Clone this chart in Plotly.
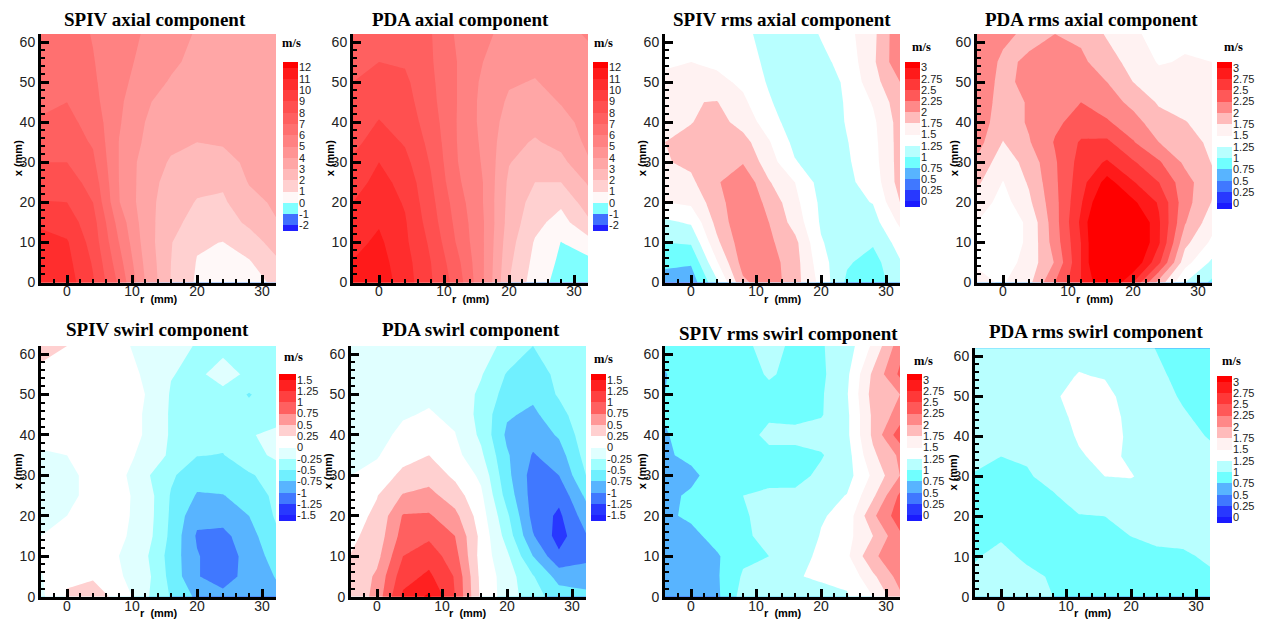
import numpy as np
import plotly.graph_objects as go

# grid of the measured fields (each inner list is one r column, values along x_mm)
r_mm = [-4, 0, 4, 8, 12, 16, 20, 24, 28, 32.15]
x_mm = [0, 5, 10, 15, 20, 25, 30, 35, 40, 45, 50, 55, 62]

spiv_axial = [
    [10.6,10.4,10.2,9.9,9.05,8.5,8.0,7.5,7.1,6.8,6.6,6.5,6.4],
    [10.5,10.3,10.1,9.5,9.0,8.5,8.0,7.5,7.3,7.0,6.7,6.5,6.4],
    [9.1,8.9,8.6,8.4,8.0,7.6,7.2,6.9,6.6,6.3,6.15,6.05,5.95],
    [6.8,6.4,6.0,5.6,5.05,5.0,4.98,4.98,5.1,5.2,5.3,5.4,5.5],
    [4.0,3.8,3.6,3.5,3.45,3.5,3.55,3.85,4.0,4.1,4.5,4.7,4.9],
    [1.95,2.0,2.05,2.25,2.4,2.6,2.9,3.2,3.4,3.7,3.9,4.2,4.45],
    [0.85,0.95,1.1,1.7,1.95,2.2,2.7,3.0,3.3,3.45,3.55,3.7,3.9],
    [0.5,0.7,0.98,1.5,1.85,2.15,2.65,3.1,3.35,3.5,3.55,3.55,3.6],
    [0.6,0.9,1.5,2.2,2.7,3.05,3.2,3.3,3.4,3.5,3.55,3.55,3.55],
    [1.2,1.8,2.4,2.95,3.15,3.25,3.35,3.4,3.45,3.5,3.5,3.5,3.5],
]
pda_axial = [
    [11.2,11.05,10.7,10.4,10.0,9.6,9.2,8.7,8.5,8.3,8.0,7.8,7.6],
    [11.6,11.4,11.2,10.9,10.6,10.3,10.0,9.5,9.05,8.7,8.4,8.0,7.6],
    [10.5,10.4,10.2,10.1,9.9,9.7,9.3,8.9,8.6,8.4,8.2,7.9,7.6],
    [9.1,9.0,8.8,8.5,8.3,8.1,7.9,7.7,7.5,7.3,7.2,7.1,7.05],
    [7.6,7.3,6.9,6.7,6.5,6.2,6.05,6.0,5.98,6.0,6.0,6.0,5.85],
    [5.1,5.1,5.1,5.1,5.0,5.0,4.9,4.8,4.7,4.7,4.8,5.0,5.2],
    [2.0,2.2,2.4,2.6,2.7,2.8,3.05,3.3,3.6,3.85,4.1,4.4,4.7],
    [0.5,0.7,0.9,1.3,1.6,2.0,2.5,2.9,3.3,3.6,3.95,4.2,4.5],
    [-0.4,-0.2,-0.02,0.6,1.2,2.0,2.7,3.3,3.7,4.05,4.3,4.5,4.7],
    [-0.5,-0.3,0.6,1.8,2.5,3.1,3.9,4.2,4.3,4.4,4.5,4.7,5.1],
]
spiv_rms_axial = [
    [0.65,0.8,1.0,1.2,1.5,1.62,1.73,1.75,1.65,1.6,1.55,1.47,1.4],
    [0.6,0.78,1.03,1.28,1.55,1.7,1.8,1.83,1.74,1.74,1.6,1.5,1.4],
    [1.2,1.48,1.7,1.83,1.9,1.97,1.96,1.9,1.85,1.76,1.57,1.45,1.4],
    [1.95,2.1,2.15,2.2,2.2,2.2,1.98,1.85,1.65,1.55,1.45,1.35,1.3],
    [2.15,2.12,2.05,2.0,1.93,1.77,1.62,1.52,1.38,1.28,1.22,1.2,1.17],
    [1.85,1.85,1.82,1.65,1.57,1.5,1.27,1.18,1.1,1.07,1.05,1.05,1.08],
    [1.42,1.35,1.27,1.22,1.2,1.15,1.1,1.08,1.07,1.08,1.1,1.18,1.27],
    [0.95,1.03,1.1,1.17,1.18,1.2,1.22,1.24,1.27,1.28,1.3,1.35,1.42],
    [0.9,0.9,1.03,1.15,1.26,1.35,1.4,1.42,1.45,1.52,1.65,1.7,1.68],
    [1.1,1.23,1.35,1.55,1.75,1.85,1.85,1.85,1.85,1.9,2.0,2.2,2.2],
]
pda_rms_axial = [
    [1.55,1.48,1.47,1.5,1.65,1.8,1.95,2.1,2.15,2.15,2.15,2.15,2.2],
    [1.48,1.38,1.33,1.33,1.4,1.49,1.6,1.74,1.85,1.9,1.93,1.96,2.05],
    [1.68,1.6,1.55,1.55,1.7,1.78,1.85,1.98,2.03,2.02,2.08,2.03,1.95],
    [2.25,2.02,2.12,2.15,2.17,2.2,2.22,2.27,2.2,2.18,2.15,2.1,2.0],
    [2.75,2.75,2.75,2.8,2.72,2.65,2.6,2.53,2.35,2.25,2.15,2.05,1.95],
    [3.3,3.6,3.6,3.6,3.35,3.1,2.78,2.55,2.28,2.12,2.0,1.87,1.72],
    [2.75,3.25,3.4,3.4,3.05,2.77,2.53,2.27,2.1,1.93,1.75,1.65,1.55],
    [1.9,2.55,2.78,2.78,2.72,2.5,2.28,2.0,1.85,1.72,1.6,1.48,1.4],
    [1.25,1.6,1.82,2.02,2.1,2.1,1.95,1.85,1.76,1.65,1.57,1.52,1.45],
    [0.95,1.2,1.45,1.6,1.74,1.8,1.74,1.7,1.65,1.6,1.55,1.5,1.42],
]
spiv_swirl = [
    [-0.05,-0.02,0.05,0.0,-0.1,-0.15,-0.15,-0.02,0.05,0.1,0.15,0.2,0.32],
    [0.27,0.22,0.1,0.05,0.0,-0.1,-0.1,0.0,0.05,0.07,0.1,0.15,0.25],
    [0.33,0.23,0.15,0.15,0.15,0.12,0.12,0.12,0.12,0.12,0.12,0.12,0.1],
    [0.2,0.03,0.0,0.05,0.07,0.08,0.08,0.08,0.08,0.08,0.08,0.08,0.06],
    [-0.2,-0.15,-0.2,-0.12,-0.1,-0.1,-0.2,-0.05,-0.01,-0.01,0.0,-0.02,-0.08],
    [-0.52,-0.58,-0.6,-0.56,-0.54,-0.52,-0.46,-0.3,-0.28,-0.28,-0.27,-0.24,-0.2],
    [-0.8,-0.98,-0.98,-1.03,-0.93,-0.77,-0.66,-0.49,-0.4,-0.35,-0.32,-0.3,-0.26],
    [-0.9,-1.15,-1.15,-1.07,-0.9,-0.76,-0.62,-0.51,-0.42,-0.37,-0.32,-0.15,-0.32],
    [-0.85,-0.88,-0.9,-0.85,-0.75,-0.63,-0.53,-0.35,-0.26,-0.4,-0.52,-0.3,-0.33],
    [-0.8,-0.74,-0.65,-0.55,-0.47,-0.45,-0.4,-0.2,-0.22,-0.3,-0.33,-0.35,-0.35],
]
pda_swirl = [
    [0.27,0.27,0.26,0.2,0.15,0.1,0.0,-0.1,-0.13,-0.14,-0.15,-0.15,-0.15],
    [0.6,0.55,0.42,0.35,0.3,0.24,0.08,-0.02,-0.07,-0.1,-0.12,-0.12,-0.13],
    [1.3,1.15,1.0,0.85,0.77,0.52,0.32,0.15,0.05,-0.02,-0.07,-0.1,-0.12],
    [1.55,1.3,1.15,0.95,0.78,0.58,0.4,0.25,0.12,0.02,-0.04,-0.08,-0.11],
    [1.0,0.98,0.85,0.75,0.57,0.37,0.2,0.08,0.01,-0.05,-0.09,-0.12,-0.14],
    [0.2,0.18,0.15,0.18,0.12,0.05,-0.05,-0.2,-0.3,-0.33,-0.3,-0.23,-0.17],
    [-0.12,-0.12,-0.2,-0.35,-0.45,-0.6,-0.68,-0.72,-0.8,-0.72,-0.6,-0.52,-0.3],
    [-0.4,-0.48,-0.75,-0.98,-1.08,-1.1,-1.1,-1.02,-0.9,-0.8,-0.7,-0.6,-0.5],
    [-0.62,-0.85,-1.2,-1.35,-1.3,-1.18,-1.0,-0.87,-0.72,-0.6,-0.47,-0.45,-0.4],
    [-0.68,-0.88,-1.06,-1.02,-0.87,-0.7,-0.5,-0.4,-0.35,-0.3,-0.28,-0.26,-0.25],
]
spiv_rms_swirl = [
    [0.6,0.62,0.65,0.67,0.7,0.7,0.72,0.72,0.73,0.77,0.75,0.74,0.82],
    [0.62,0.6,0.62,0.67,0.8,0.78,0.7,0.8,0.85,0.87,0.85,0.85,0.85],
    [0.7,0.72,0.72,0.85,0.88,0.88,0.85,0.88,0.9,0.92,0.9,0.9,0.9],
    [1.1,1.03,0.95,0.97,0.98,1.0,0.98,0.95,0.95,0.92,0.92,0.92,0.95],
    [1.12,1.1,1.0,1.05,1.06,1.03,0.95,0.97,1.03,0.98,0.95,1.02,1.08],
    [1.2,1.24,1.15,1.0,1.1,1.05,0.92,0.95,1.05,0.95,0.93,0.95,0.95],
    [1.2,1.27,1.3,1.27,1.22,1.15,1.05,0.98,1.1,0.98,0.97,0.95,0.98],
    [1.23,1.3,1.45,1.42,1.35,1.26,1.15,1.15,1.2,1.2,1.23,1.2,1.12],
    [1.5,1.7,1.95,1.75,1.95,1.7,1.55,1.7,1.8,1.8,1.85,1.8,1.55],
    [1.95,2.1,2.2,2.2,2.4,2.3,2.0,2.05,2.4,2.1,2.0,2.3,2.15],
]
pda_rms_swirl = [
    [1.1,1.05,0.98,0.96,0.95,0.97,0.99,1.03,1.07,1.08,1.1,1.1,1.12],
    [1.25,1.17,1.08,0.97,0.9,0.93,0.97,1.0,1.06,1.0,1.08,1.1,1.12],
    [1.15,1.07,0.95,0.9,0.92,0.95,0.98,1.02,1.07,1.1,1.12,1.13,1.15],
    [1.0,0.97,0.92,0.9,0.92,0.98,1.06,1.11,1.15,1.18,1.23,1.2,1.18],
    [0.9,0.88,0.86,0.88,0.99,1.08,1.17,1.23,1.27,1.3,1.3,1.26,1.2],
    [0.88,0.88,0.88,0.92,1.0,1.08,1.25,1.3,1.32,1.33,1.3,1.24,1.15],
    [0.88,0.88,0.9,1.0,1.07,1.15,1.26,1.22,1.22,1.2,1.18,1.15,1.1],
    [0.88,0.9,0.96,1.04,1.1,1.15,1.18,1.17,1.15,1.12,1.1,1.05,0.99],
    [0.9,0.92,0.97,1.05,1.1,1.13,1.13,1.12,1.1,1.03,0.97,0.93,0.9],
    [0.92,0.97,1.03,1.08,1.1,1.1,1.1,1.08,0.98,0.92,0.88,0.85,0.82],
]

# contour levels and their band colours, lowest band first
axial_levels = [-2,-1,0,1,2,3,4,5,6,7,8,9,10,11,12]
axial_labels = [str(v) for v in axial_levels]
axial_colors = ["#2020ff","#4070ff","#80ffff","#fff8f8","#ffd0d0","#ffbaba","#ffa6a6","#ff9494",
                "#ff8282","#ff7070","#ff6060","#ff5050","#ff3f3f","#ff2d2d","#ff1a1a","#ff0000"]
rms_levels = [0,0.25,0.5,0.75,1,1.25,1.5,1.75,2,2.25,2.5,2.75,3]
rms_labels = ["0","0.25","0.5","0.75","1","1.25","1.5","1.75","2","2.25","2.5","2.75","3"]
rms_colors = ["#1a1aff","#2838ff","#4078ff","#58b4ff","#70ffff","#b8ffff","#ffffff","#fff2f2",
              "#ffbbbb","#ff8888","#ff5858","#ff3838","#ff1a1a","#ff0000"]
swirl_levels = [-1.5,-1.25,-1,-0.75,-0.5,-0.25,0,0.25,0.5,0.75,1,1.25,1.5]
swirl_labels = ["-1.5","-1.25","-1","-0.75","-0.5","-0.25","0","0.25","0.5","0.75","1","1.25","1.5"]
swirl_colors = ["#2020ff","#2838ff","#4078ff","#58b4ff","#70f0ff","#a0ffff","#e0ffff","#ffffff",
                "#ffd0d0","#ff9898","#ff6060","#ff4040","#ff2020","#ff0000"]
SCALES = {
    "axial": (axial_levels, axial_labels, axial_colors),
    "rms": (rms_levels, rms_labels, rms_colors),
    "swirl": (swirl_levels, swirl_labels, swirl_colors),
}

W, H = 1264, 621
# title, data, scale, plot box (l,r,t,b), bar box (l,r,t,b), title xy, unit xy
PANELS = [
    ("SPIV axial component", spiv_axial, "axial", (41,276,34,282.5), (283,298,62,231), (155,19), (291,43)),
    ("PDA axial component", pda_axial, "axial", (353,588,34,282.5), (593,608,62,231), (460,19), (603,43)),
    ("SPIV rms axial component", spiv_rms_axial, "rms", (665,900,34,282.5), (905,920,62,207), (782,19), (921,47)),
    ("PDA rms axial component", pda_rms_axial, "rms", (977,1212,34,282.5), (1217,1232,62,209), (1091,19), (1233,47)),
    ("SPIV swirl component", spiv_swirl, "swirl", (41,276,346,596.7), (279,296,374,521), (157,329), (293,357)),
    ("PDA swirl component", pda_swirl, "swirl", (351,586,346,596.7), (591,606,374,521), (471,329), (603,359)),
    ("SPIV rms swirl component", spiv_rms_swirl, "rms", (665,900,346,596.7), (907,922,374,521), (788,333), (923,361)),
    ("PDA rms swirl component", pda_rms_swirl, "rms", (975,1210,348.3,596.7), (1217,1232,376,523), (1096,331), (1231,361)),
]

def stepped(colors):
    n = len(colors)
    out = []
    for i, c in enumerate(colors):
        out += [[i / n, c], [(i + 1) / n, c]]
    return out

SANS = "Liberation Sans, Arial, sans-serif"
SERIF = "Liberation Serif, Times New Roman, serif"
fig = go.Figure()
layout = {}
ann = []
idx = 1

def axnames(i):
    return ("x%d" % i if i > 1 else "x", "y%d" % i if i > 1 else "y",
            "xaxis%d" % i if i > 1 else "xaxis", "yaxis%d" % i if i > 1 else "yaxis")

for title, cols, scale, box, bar, tpos, upos in PANELS:
    levels, labels, colors = SCALES[scale]
    size = levels[1] - levels[0]
    zmin, zmax = levels[0] - size, levels[-1] + size
    cs = stepped(colors)
    xn, yn, xa, ya = axnames(idx)
    fig.add_trace(go.Contour(
        x=r_mm, y=x_mm, z=np.array(cols).T, xaxis=xn, yaxis=yn,
        colorscale=cs, zmin=zmin, zmax=zmax, showscale=False, line=dict(width=0, smoothing=0),
        contours=dict(coloring="fill", showlines=False, start=levels[0], end=levels[-1], size=size),
        name=title, hoverinfo="skip"))
    l, rr, t, b = box
    tick = dict(ticks="inside", showline=True, linecolor="black", linewidth=3, showgrid=False,
                zeroline=False, ticklen=8, tickwidth=3, tickcolor="black", automargin=False, layer="above traces",
                tickfont=dict(family=SANS, size=14, color="#222222"),
                minor=dict(dtick=2, ticks="inside", ticklen=4, tickwidth=2, tickcolor="black", showgrid=False))
    layout[xa] = dict(domain=[l / W, rr / W], range=[-4, 32.15], tick0=0, dtick=10, anchor=yn,
                      ticklabelstandoff=-6, **tick)
    layout[ya] = dict(domain=[1 - b / H, 1 - t / H], range=[0, 62], tick0=0, dtick=10, anchor=xn, **tick)
    ann.append(dict(text="<b>%s</b>" % title, x=tpos[0] / W, y=1 - tpos[1] / H, xref="paper", yref="paper",
                    showarrow=False, font=dict(family=SERIF, size=19, color="black"), xanchor="center", yanchor="middle"))
    ann.append(dict(text="<b>m/s</b>", x=upos[0] / W, y=1 - upos[1] / H, xref="paper", yref="paper",
                    showarrow=False, font=dict(family=SERIF, size=12.5, color="black"), xanchor="center", yanchor="middle"))
    ann.append(dict(text="<b>r  (mm)</b>", x=(l + rr) / 2 / W, y=1 - (b + 16.5) / H, xref="paper", yref="paper",
                    showarrow=False, font=dict(family=SANS, size=11, color="black"), xanchor="center", yanchor="middle"))
    ann.append(dict(text="<b>x (mm)</b>", x=(l - 23) / W, y=1 - ((t + b) / 2) / H, xref="paper", yref="paper", textangle=-90,
                    showarrow=False, font=dict(family=SANS, size=11, color="black"), xanchor="center", yanchor="middle"))
    # legend bar, drawn as a one-column heatmap on its own axes
    idx2 = idx + 8
    xn2, yn2, xa2, ya2 = axnames(idx2)
    edges = [levels[0] - size / 2] + list(levels) + [levels[-1] + size / 2]
    mids = [levels[0] - size / 2] + [v + size / 2 for v in levels[:-1]] + [levels[-1] + size / 2]
    fig.add_trace(go.Heatmap(
        x=[0, 1], y=edges, z=[[m] for m in mids], xaxis=xn2, yaxis=yn2, colorscale=cs,
        zmin=zmin, zmax=zmax, showscale=False, hoverinfo="skip", name=title + " legend"))
    bl, br, bt, bb = bar
    layout[xa2] = dict(domain=[bl / W, br / W], range=[0, 1], visible=False, anchor=yn2)
    layout[ya2] = dict(domain=[1 - bb / H, 1 - bt / H], range=[edges[0], edges[-1]], side="right", anchor=xn2,
                       tickmode="array", tickvals=levels, ticktext=labels, ticks="", showgrid=False, zeroline=False,
                       showline=False, automargin=False,
                       tickfont=dict(family=SANS, size=11, color="#222222"))
    idx += 1

fig.update_layout(template="none", width=W, height=H, margin=dict(l=0, r=0, t=0, b=0, pad=0), paper_bgcolor="white",
                  plot_bgcolor="white", showlegend=False, annotations=ann, **layout)
fig.write_html("out.html", config={"displayModeBar": False},
               post_script="document.body.style.margin='0';document.body.style.overflow='hidden';")
